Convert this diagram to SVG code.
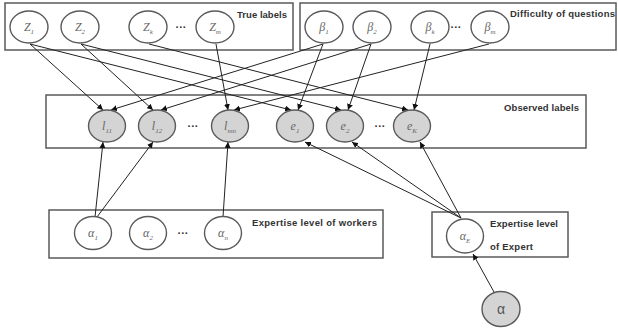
<svg xmlns="http://www.w3.org/2000/svg" width="618" height="329" viewBox="0 0 618 329">
<style>
.box{fill:none;stroke:#5a5a5a;stroke-width:1.5}
.nd{fill:#fff;stroke:#5a5a5a;stroke-width:1.4}
.ob{fill:#d4d4d4;stroke:#5a5a5a;stroke-width:1.4}
.lb{font-family:"Liberation Serif",serif;font-style:italic;font-size:12px;fill:#666;text-anchor:middle}
.sb{font-size:7px}
.bt{font-family:"Liberation Sans",Arial,sans-serif;font-weight:bold;font-size:9.5px;fill:#333}
.dots{font-family:"Liberation Sans",Arial,sans-serif;font-weight:bold;font-size:11px;fill:#333;text-anchor:middle}
.ed{stroke:#222;stroke-width:1;fill:none;marker-end:url(#ah)}
</style>
<defs>
<marker id="ah" markerUnits="userSpaceOnUse" markerWidth="7" markerHeight="6" refX="6" refY="3" orient="auto">
<path d="M0,0 L6,3 L0,6 z" fill="#111"/>
</marker>
</defs>
<rect width="618" height="329" fill="#fff"/>

<g id="box-true"><rect class="box" x="5" y="3" width="288" height="47"/><text class="bt" x="237" y="18" textLength="50">True labels</text></g>
<g id="box-diff"><rect class="box" x="300" y="3" width="316" height="47"/><text class="bt" x="510" y="17" textLength="105">Difficulty of questions</text></g>
<g id="box-obs"><rect class="box" x="46" y="95" width="540" height="53"/><text class="bt" x="504" y="111" textLength="75">Observed labels</text></g>
<g id="box-workers"><rect class="box" x="49" y="210" width="334" height="48"/><text class="bt" x="252" y="226" textLength="125">Expertise level of  workers</text></g>
<g id="box-expert"><rect class="box" x="432" y="212" width="136" height="45"/><text class="bt" x="490" y="227" textLength="68">Expertise level</text><text class="bt" x="490" y="250" textLength="43">of Expert</text></g>

<g id="connectors">
<line class="ed" x1="30" y1="44" x2="103" y2="110"/>
<line class="ed" x1="323" y1="44" x2="111" y2="110"/>
<line class="ed" x1="81" y1="44" x2="153" y2="110"/>
<line class="ed" x1="371" y1="44" x2="161" y2="110"/>
<line class="ed" x1="216" y1="44" x2="228" y2="110"/>
<line class="ed" x1="489" y1="44" x2="234" y2="110"/>
<line class="ed" x1="30" y1="44" x2="291" y2="110"/>
<line class="ed" x1="323" y1="44" x2="298" y2="110"/>
<line class="ed" x1="81" y1="44" x2="341" y2="110"/>
<line class="ed" x1="371" y1="44" x2="348" y2="110"/>
<line class="ed" x1="149" y1="44" x2="408" y2="110"/>
<line class="ed" x1="430" y1="44" x2="414" y2="110"/>
<line class="ed" x1="95" y1="217" x2="103" y2="142"/>
<line class="ed" x1="97" y1="217" x2="153" y2="142"/>
<line class="ed" x1="223" y1="217" x2="228" y2="142"/>
<line class="ed" x1="461" y1="218" x2="305" y2="142"/>
<line class="ed" x1="461" y1="218" x2="352" y2="142"/>
<line class="ed" x1="461" y1="218" x2="420" y2="142"/>
<line class="ed" x1="494" y1="292" x2="473" y2="254"/>
</g>

<g id="Z1"><ellipse class="nd" cx="29" cy="27" rx="19" ry="16"/><text class="lb" x="29" y="31">Z<tspan class="sb" dy="3">1</tspan></text></g>
<g id="Z2"><ellipse class="nd" cx="80" cy="27" rx="19" ry="16"/><text class="lb" x="80" y="31">Z<tspan class="sb" dy="3">2</tspan></text></g>
<g id="Zk"><ellipse class="nd" cx="148" cy="27" rx="19" ry="16"/><text class="lb" x="148" y="31">Z<tspan class="sb" dy="3">k</tspan></text></g>
<text class="dots" x="181" y="31">···</text>
<g id="Zm"><ellipse class="nd" cx="215" cy="27" rx="19" ry="16"/><text class="lb" x="215" y="31">Z<tspan class="sb" dy="3">m</tspan></text></g>

<g id="b1"><ellipse class="nd" cx="324" cy="27" rx="19" ry="16"/><text class="lb" x="324" y="31">β<tspan class="sb" dy="3">1</tspan></text></g>
<g id="b2"><ellipse class="nd" cx="372" cy="27" rx="19" ry="16"/><text class="lb" x="372" y="31">β<tspan class="sb" dy="3">2</tspan></text></g>
<g id="bk"><ellipse class="nd" cx="430" cy="27" rx="19" ry="16"/><text class="lb" x="430" y="31">β<tspan class="sb" dy="3">k</tspan></text></g>
<text class="dots" x="456" y="31">···</text>
<g id="bm"><ellipse class="nd" cx="490" cy="27" rx="19" ry="16"/><text class="lb" x="490" y="31">β<tspan class="sb" dy="3">m</tspan></text></g>

<g id="l11"><ellipse class="ob" cx="107" cy="126" rx="18.5" ry="16"/><text class="lb" x="107" y="130">l<tspan class="sb" dy="3">11</tspan></text></g>
<g id="l12"><ellipse class="ob" cx="157" cy="126" rx="18.5" ry="16"/><text class="lb" x="157" y="130">l<tspan class="sb" dy="3">12</tspan></text></g>
<text class="dots" x="193" y="130">···</text>
<g id="lmn"><ellipse class="ob" cx="230" cy="126" rx="18.5" ry="16"/><text class="lb" x="230" y="130">l<tspan class="sb" dy="3">mn</tspan></text></g>
<g id="e1"><ellipse class="ob" cx="295" cy="126" rx="18.5" ry="16"/><text class="lb" x="295" y="130">e<tspan class="sb" dy="3">1</tspan></text></g>
<g id="e2"><ellipse class="ob" cx="345" cy="126" rx="18.5" ry="16"/><text class="lb" x="345" y="130">e<tspan class="sb" dy="3">2</tspan></text></g>
<text class="dots" x="380" y="130">···</text>
<g id="eK"><ellipse class="ob" cx="412" cy="126" rx="18.5" ry="16"/><text class="lb" x="412" y="130">e<tspan class="sb" dy="3">K</tspan></text></g>

<g id="a1"><ellipse class="nd" cx="93" cy="233" rx="18.5" ry="16.5"/><text class="lb" x="93" y="237">α<tspan class="sb" dy="3">1</tspan></text></g>
<g id="a2"><ellipse class="nd" cx="148" cy="233" rx="18.5" ry="16.5"/><text class="lb" x="148" y="237">α<tspan class="sb" dy="3">2</tspan></text></g>
<text class="dots" x="183" y="237">···</text>
<g id="an"><ellipse class="nd" cx="223" cy="233" rx="18.5" ry="16.5"/><text class="lb" x="223" y="237">α<tspan class="sb" dy="3">n</tspan></text></g>
<g id="aE"><ellipse class="nd" cx="465" cy="236" rx="18.5" ry="17"/><text class="lb" x="465" y="240">α<tspan class="sb" dy="3">E</tspan></text></g>
<g id="alpha"><ellipse class="ob" cx="501" cy="309" rx="19" ry="17.5"/><text x="501" y="314" font-family="Liberation Sans,Arial,sans-serif" font-size="14" fill="#555" text-anchor="middle">α</text></g>
</svg>
